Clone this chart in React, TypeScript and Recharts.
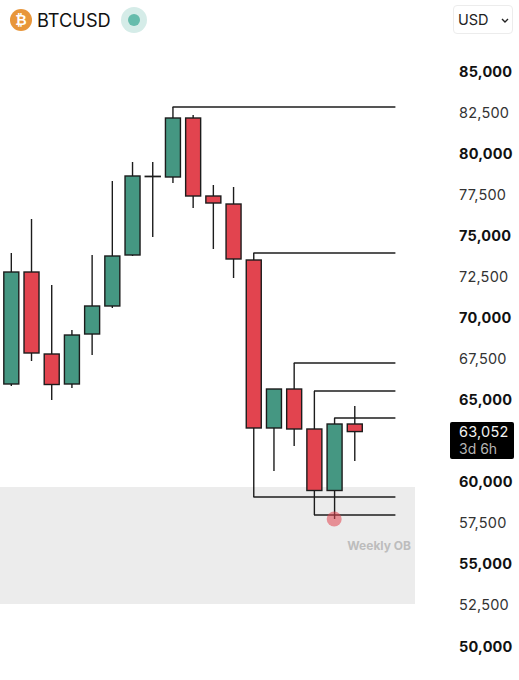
import { ComposedChart, Bar, XAxis, YAxis, ReferenceArea, ReferenceLine, ReferenceDot } from 'recharts';

const opens = [65948, 72765, 67774, 65948, 68991, 70696, 73800, 78590, 78548, 82139, 77391, 76904, 73496, 63270, 65643, 63209, 59465, 63513];
const closes = [72765, 67835, 65917, 68930, 70696, 73739, 78609, 78570, 82139, 77391, 76965, 73557, 63270, 65643, 63209, 59465, 63513, 63052];
const highs = [73922, 75991, 71974, 69235, 73800, 78304, 79461, 79461, 82809, 82322, 78061, 77939, 73922, 65643, 67226, 65522, 63878, 64609];
const lows = [65826, 67348, 64974, 65704, 67713, 70574, 73739, 74896, 78183, 76661, 74165, 72400, 59070, 60652, 62174, 57974, 57730, 61261];

const candles = opens.map((open, i) => ({
  i,
  open,
  close: closes[i],
  high: highs[i],
  low: lows[i],
}));

// price levels drawn from a candle out towards the axis
const levelStarts = [8, 12, 14, 15, 16, 12, 15];
const levelPrices = [82809, 73922, 67226, 65522, 63878, 59070, 57974];

const yTicks = [85000, 82500, 80000, 77500, 75000, 72500, 70000, 67500, 65000, 63052, 60000, 57500, 55000, 52500, 50000];
const lastPrice = 63052;
const countdown = '3d 6h';

const FONT = 'Inter, sans-serif';
const GREEN = '#459782';
const RED = '#e2444f';
const LINE = '#1c1c1c';

function Candle(props: any) {
  const { x, y, width, height, payload } = props;
  const top = Math.min(y, y + height);
  const span = Math.abs(height);
  const range = payload.high - payload.low;
  const toY = (v: number) => top + ((payload.high - v) / range) * span;
  const bodyTop = toY(Math.max(payload.open, payload.close));
  const bodyBottom = toY(Math.min(payload.open, payload.close));
  const mid = x + width / 2;
  const up = payload.close >= payload.open;
  return (
    <g>
      <line x1={mid} x2={mid} y1={top} y2={top + span} stroke={LINE} strokeWidth={1.4} />
      <rect
        x={x}
        y={bodyTop}
        width={width}
        height={bodyBottom - bodyTop}
        fill={up ? GREEN : RED}
        stroke={LINE}
        strokeWidth={1.4}
      />
    </g>
  );
}

function PriceTick(props: any) {
  const { y, payload } = props;
  const value = payload.value;
  if (value === lastPrice) {
    return (
      <g>
        <rect x={450} y={y - 9.5} width={64} height={37} rx={2} fill="#000" />
        <text x={459} y={y + 5.5} fontFamily={FONT} fontSize={14.5} letterSpacing={0.2} fill="#f2f2f2">
          {value.toLocaleString('en-US')}
        </text>
        <text x={459} y={y + 22.5} fontFamily={FONT} fontSize={14} fill="#b5b5b5">
          {countdown}
        </text>
      </g>
    );
  }
  const major = value % 5000 === 0;
  return (
    <text
      x={459}
      y={y + 5.5}
      fontFamily={FONT}
      fontSize={14.5}
      letterSpacing={0.2}
      fontWeight={major ? 700 : 400}
      fill={major ? '#111' : '#333'}
    >
      {value.toLocaleString('en-US')}
    </text>
  );
}

export default function App() {
  return (
    <div style={{ position: 'absolute', left: 0, top: 0, width: 519, height: 680, background: '#fff', fontFamily: FONT }}>
      <div
        style={{
          position: 'absolute',
          left: 10,
          top: 9,
          width: 22,
          height: 22,
          borderRadius: 11,
          background: '#e8963a',
          color: '#fff',
          fontSize: 14,
          fontWeight: 700,
          lineHeight: '22px',
          textAlign: 'center',
          fontFamily: 'DejaVu Sans, sans-serif',
        }}
      >
        ₿
      </div>
      <div style={{ position: 'absolute', left: 37, top: 8, fontSize: 18.2, lineHeight: '24px', color: '#111' }}>BTCUSD</div>
      <div style={{ position: 'absolute', left: 121, top: 7, width: 26, height: 26, borderRadius: 13, background: '#d5ece8' }} />
      <div style={{ position: 'absolute', left: 128, top: 14, width: 12, height: 12, borderRadius: 6, background: '#66bcac' }} />
      <div
        style={{
          position: 'absolute',
          left: 453,
          top: 5,
          width: 60,
          height: 29,
          boxSizing: 'border-box',
          border: '1px solid #ececec',
          borderRadius: 4,
          fontSize: 14.5,
          lineHeight: '27px',
          paddingLeft: 4,
          color: '#222',
        }}
      >
        USD
        <svg width={8} height={6} style={{ position: 'absolute', left: 47, top: 12 }}>
          <path d="M1 1 L4 4 L7 1" fill="none" stroke="#222" strokeWidth={1.4} />
        </svg>
      </div>
      <ComposedChart
        width={519}
        height={680}
        data={candles}
        margin={{ top: 71, right: 0, bottom: 34, left: 0 }}
        style={{ position: 'absolute', left: 0, top: 0 }}
      >
        <XAxis dataKey="i" type="number" domain={[-0.54, 20]} hide allowDataOverflow />
        <YAxis
          orientation="right"
          type="number"
          domain={[50000, 85000]}
          ticks={yTicks}
          interval={0}
          width={104}
          axisLine={false}
          tickLine={false}
          tick={<PriceTick />}
        />
        <ReferenceArea
          y1={59680}
          y2={52556}
          fill="#ececec"
          fillOpacity={1}
          stroke="none"
          label={{
            value: 'Weekly OB',
            position: 'insideRight',
            offset: 4,
            fill: '#bdbdbd',
            fontSize: 12,
            fontWeight: 700,
            fontFamily: FONT,
          }}
        />
        {levelPrices.map((price, k) => (
          <ReferenceLine
            key={k}
            segment={[
              { x: levelStarts[k], y: price },
              { x: 19.03, y: price },
            ]}
            stroke={LINE}
            strokeWidth={1.4}
          />
        ))}
        <Bar
          dataKey={(d: any) => [d.low, d.high]}
          barSize={15}
          shape={<Candle />}
          isAnimationActive={false}
        />
        <ReferenceDot x={16} y={57730} r={7.5} fill={RED} fillOpacity={0.55} stroke="none" />
      </ComposedChart>
    </div>
  );
}
